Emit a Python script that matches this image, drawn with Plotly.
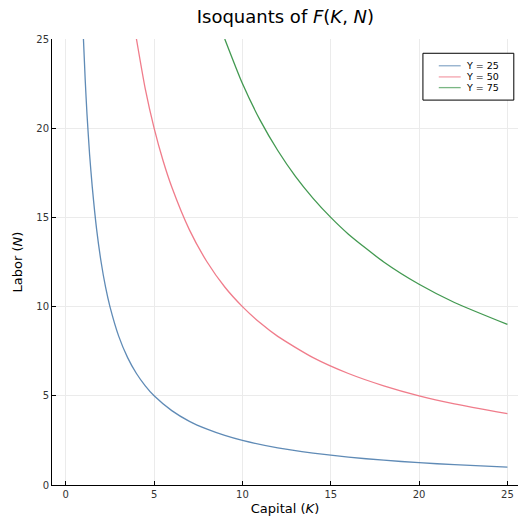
import plotly.graph_objects as go

# Isoquant readings (Capital K, Labor N)
K_25 = [1, 1.1, 1.2, 1.35, 1.5, 1.75, 2, 2.25, 2.5, 3, 3.5, 4, 4.5, 5, 6, 7, 8, 9, 10, 12, 14, 16, 18, 20, 22, 25]
N_25 = [25, 22.7, 20.8, 18.5, 16.7, 14.3, 12.5, 11.1, 10, 8.33, 7.14, 6.25, 5.56, 5, 4.17, 3.57, 3.13, 2.78, 2.5, 2.08, 1.79, 1.56, 1.39, 1.25, 1.14, 1.0]

K_50 = [4, 4.5, 5, 5.5, 6, 7, 8, 9, 10, 11, 12, 14, 16, 18, 20, 22, 25]
N_50 = [25, 22.2, 20, 18.2, 16.7, 14.3, 12.5, 11.1, 10, 9.09, 8.33, 7.14, 6.25, 5.56, 5, 4.55, 4.0]

K_75 = [9, 10, 11, 12, 13, 14, 15, 16, 18, 20, 22, 25]
N_75 = [25, 22.5, 20.45, 18.75, 17.3, 16.07, 15, 14.06, 12.5, 11.25, 10.23, 9.0]

series_names = ["Y = 25", "Y = 50", "Y = 75"]
colors = ["#4477AA", "#EE6677", "#228833"]

fig = go.Figure()
for name, xs, ys, c in zip(series_names, [K_25, K_50, K_75], [N_25, N_50, N_75], colors):
    fig.add_trace(go.Scatter(x=xs, y=ys, mode="lines", name=name,
                             line=dict(color=c, width=1.3, shape="spline", smoothing=0.6),
                             opacity=0.85, showlegend=False))

# Compact framed legend (plot-area paper coordinates)
shapes = [dict(type="rect", xref="paper", yref="paper", x0=0.796, x1=0.991, y0=0.863, y1=0.968,
               line=dict(color="black", width=1), fillcolor="white", layer="above")]
annotations = []
row_y = [0.940, 0.915, 0.891]
for name, c, ry in zip(series_names, colors, row_y):
    shapes.append(dict(type="line", xref="paper", yref="paper", x0=0.830, x1=0.877, y0=ry, y1=ry,
                       line=dict(color=c, width=1.3), opacity=0.6, layer="above"))
    annotations.append(dict(text=name, xref="paper", yref="paper", x=0.884, y=ry,
                            xanchor="left", yanchor="middle", showarrow=False,
                            font=dict(family="DejaVu Sans", size=9.5, color="black")))

tick_vals = [0, 5, 10, 15, 20, 25]
axis_common = dict(
    showgrid=True, gridcolor="#ebebeb", gridwidth=1,
    showline=True, linecolor="black", linewidth=1,
    ticks="inside", ticklen=4, tickcolor="black",
    tickfont=dict(family="DejaVu Sans", size=10, color="#333333"),
    zeroline=False, tickvals=tick_vals, mirror=False,
)

fig.update_layout(
    width=518, height=517,
    margin=dict(l=52, r=0, t=39, b=32),
    paper_bgcolor="white", plot_bgcolor="white",
    title=dict(text="Isoquants of <i>F</i>(<i>K</i>, <i>N</i>)", x=0.551, xanchor="center",
               y=0.967, yanchor="middle",
               font=dict(family="DejaVu Sans", size=18, color="black")),
    xaxis=dict(range=[-0.78, 25.6], title=dict(text="Capital (<i>K</i>)", standoff=4,
               font=dict(family="DejaVu Sans", size=13, color="black")), **axis_common),
    yaxis=dict(range=[0, 25], title=dict(text="Labor (<i>N</i>)", standoff=10,
               font=dict(family="DejaVu Sans", size=13, color="black")), **axis_common),
    shapes=shapes,
    annotations=annotations,
    showlegend=False,
)

fig.write_html("out.html")
